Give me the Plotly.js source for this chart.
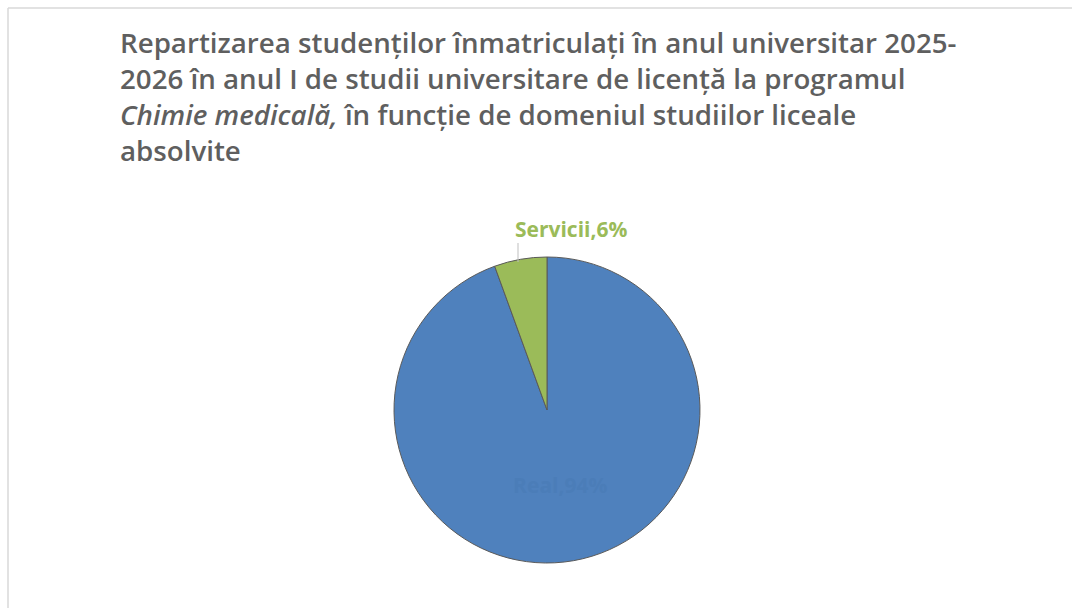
<!DOCTYPE html>
<html>
<head>
<meta charset="utf-8">
<script src="https://cdn.plot.ly/plotly-3.0.1.min.js"></script>
<style>
html,body{margin:0;padding:0;background:#ffffff;}
#chart{width:1072px;height:608px;}
</style>
</head>
<body>
<div id="chart"></div>
<script>
// Data
const categories = ['Real', 'Servicii'];
const values = [17, 1];
const sliceColors = ['#4f81bd', '#9bbb59'];
const labelColors = ['#4b7db8', '#9bbb59'];

const titleText = 'Repartizarea studenților înmatriculați în anul universitar 2025-<br>' +
  '2026 în anul I de studii universitare de licență la programul<br>' +
  '<i>Chimie medicală,</i> în funcție de domeniul studiilor liceale<br>' +
  'absolvite';

const W = 1072, H = 608;
const cx = 547, cy = 410, r = 153;
const total = values.reduce((a, b) => a + b, 0);

const trace = {
  type: 'pie',
  labels: categories,
  values: values,
  sort: false,
  direction: 'clockwise',
  rotation: 0,
  marker: {colors: sliceColors, line: {color: '#5a5a5a', width: 1}},
  texttemplate: ['<b>%{label},%{percent:.0%}</b>', ''],
  textposition: ['inside', 'none'],
  insidetextorientation: 'horizontal',
  textfont: {family: 'Open Sans, sans-serif', size: 21, color: labelColors},
  hoverinfo: 'label+percent',
  showlegend: false,
  automargin: false,
  domain: {
    x: [(cx - r) / W, (cx + r) / W],
    y: [(H - cy - r) / H, (H - cy + r) / H]
  }
};

// outside label for the small slice, text built from the data
const smallLabel = '<b>' + categories[1] + ',' + Math.round(values[1] / total * 100) + '%</b>';

const layout = {
  width: W, height: H,
  margin: {l: 0, r: 0, t: 0, b: 0},
  paper_bgcolor: '#ffffff',
  showlegend: false,
  title: {
    text: titleText,
    x: 120 / W, xanchor: 'left', xref: 'paper',
    y: 1 - 53 / H, yanchor: 'top', yref: 'paper',
    font: {family: 'Open Sans, sans-serif', size: 27.7, weight: 600, color: '#5f5f5f'}
  },
  annotations: [
    {xref: 'paper', yref: 'paper', x: 571 / W, y: 1 - 229 / H, xanchor: 'center', yanchor: 'middle',
     text: smallLabel, showarrow: false,
     font: {family: 'Open Sans, sans-serif', size: 21, color: labelColors[1]}}
  ],
  shapes: [
    {type: 'line', xref: 'paper', yref: 'paper', x0: 8 / W, x1: 1, y0: 1 - 8 / H, y1: 1 - 8 / H,
     line: {color: '#d9d9d9', width: 1.5}},
    {type: 'line', xref: 'paper', yref: 'paper', x0: 8 / W, x1: 8 / W, y0: 0, y1: 1 - 8 / H,
     line: {color: '#d9d9d9', width: 1.5}},
    {type: 'line', xref: 'paper', yref: 'paper', x0: 518 / W, x1: 518 / W, y0: 1 - 243 / H, y1: 1 - 262 / H,
     line: {color: '#bfbfbf', width: 1}}
  ]
};

Plotly.newPlot('chart', [trace], layout, {displayModeBar: false, staticPlot: true});
</script>
</body>
</html>
